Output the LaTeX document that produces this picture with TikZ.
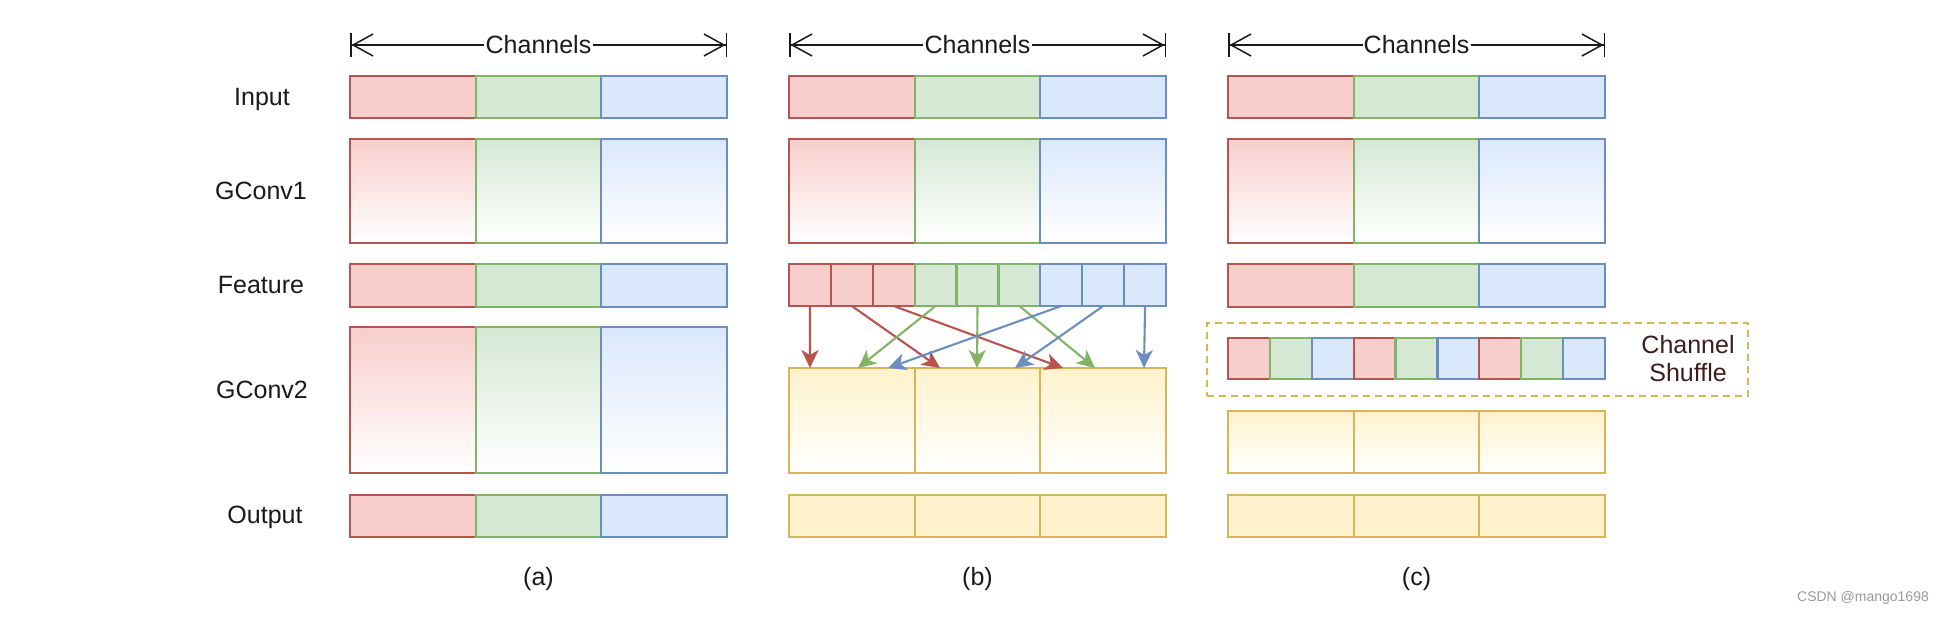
\documentclass[tikz,border=0pt]{standalone}
\usepackage{fontspec}
\setmainfont{Liberation Sans}
\usetikzlibrary{arrows.meta}
\definecolor{rfill}{HTML}{F8CECC}\definecolor{rline}{HTML}{B85450}
\definecolor{gfill}{HTML}{D5E8D4}\definecolor{gline}{HTML}{82B366}
\definecolor{bfill}{HTML}{DAE8FC}\definecolor{bline}{HTML}{6C8EBF}
\definecolor{yfill}{HTML}{FFF2CC}\definecolor{yline}{HTML}{D6B656}
\definecolor{txt}{HTML}{1A1A1A}
\definecolor{shuftxt}{HTML}{3D1C1C}
\definecolor{wmark}{HTML}{9A9A9A}
\begin{document}
\begin{tikzpicture}[x=1pt,y=-1pt,
  cell/.style={inner sep=0pt,outer sep=0pt,anchor=north west,line width=2.2pt},
  flat/.style={draw=#1line,fill=#1fill},
  grad/.style={draw=#1line,top color=#1fill,bottom color=white},
  lbl/.style={font=\fontsize{25}{29}\selectfont,text=txt,anchor=base,inner sep=0pt},
  dimline/.style={line width=1.5pt,draw=txt},
  dimtip/.style={-{Straight Barb[length=20pt,width=22pt]Bar[width=24pt]}},
  flow/.style={line width=2.1pt,-{Stealth[length=18pt,width=17pt,inset=5pt]}},
  shufbox/.style={cell,draw=yline,dash pattern=on 7pt off 5pt,line width=2pt},
]
\fill[white] (0,0) rectangle (1946,616);
\useasboundingbox (0,0) rectangle (1946,616);
\def\cellW{125.667}
\def\cellw{41.889}

% row labels
\node[lbl] (l-in) at (262,105.5) {Input};
\node[lbl] (l-g1) at (261,199.5) {GConv1};
\node[lbl] (l-ft) at (261,293.5) {Feature};
\node[lbl] (l-g2) at (262,398.5) {GConv2};
\node[lbl] (l-out) at (265,523.5) {Output};

% Channels dimension arrows
\foreach \p/\x in {a/350,b/789,c/1228}{
  \coordinate (\p-L) at (\x,45);
  \coordinate (\p-R) at ({\x+377},45);
  \node[lbl,inner xsep=1pt] (\p-ch) at ({\x+188.5},53.5) {Channels};
  \draw[dimline,dimtip] (\p-ch.west |- \p-L) -- (\p-L);
  \draw[dimline,dimtip] (\p-ch.east |- \p-R) -- (\p-R);
}

% common rows: Input, GConv1 in all panels
\foreach \p/\x in {a/350,b/789,c/1228}{
  \foreach \col [count=\i from 0] in {r,g,b}{
    \node[cell,flat=\col,minimum width=\cellW pt,minimum height=42pt] (\p-in-\i) at ({\x+\cellW*\i},76) {};
    \node[cell,grad=\col,minimum width=\cellW pt,minimum height=104pt] (\p-g1-\i) at ({\x+\cellW*\i},139) {};
  }
}

% panel (a)
\foreach \col [count=\i from 0] in {r,g,b}{
  \node[cell,flat=\col,minimum width=\cellW pt,minimum height=43pt] (a-ft-\i) at ({350+\cellW*\i},264) {};
  \node[cell,grad=\col,minimum width=\cellW pt,minimum height=146pt] (a-g2-\i) at ({350+\cellW*\i},327) {};
  \node[cell,flat=\col,minimum width=\cellW pt,minimum height=42pt] (a-out-\i) at ({350+\cellW*\i},495) {};
}

% panel (b)
\foreach \col [count=\i] in {r,r,r,g,g,g,b,b,b}{
  \node[cell,flat=\col,minimum width=\cellw pt,minimum height=42pt] (b-ft-\i) at ({789+\cellw*(\i-1)},264) {};
}
\foreach \i in {0,1,2}{
  \node[cell,grad=y,minimum width=\cellW pt,minimum height=105pt] (b-g2-\i) at ({789+\cellW*\i},368) {};
  \node[cell,flat=y,minimum width=\cellW pt,minimum height=42pt] (b-out-\i) at ({789+\cellW*\i},495) {};
}
\foreach \j/\x in {1/810,2/858,3/888,4/940,5/977,6/1015,7/1063,8/1095,9/1144}{
  \coordinate (t\j) at (\x,368);
}
\foreach \s/\t/\col in {1/1/r,2/4/r,3/7/r,4/2/g,5/5/g,6/8/g,7/3/b,8/6/b,9/9/b}{
  \draw[flow,color=\col line] (b-ft-\s.south) -- (t\t);
}

% panel (c)
\foreach \col [count=\i from 0] in {r,g,b}{
  \node[cell,flat=\col,minimum width=\cellW pt,minimum height=43pt] (c-ft-\i) at ({1228+\cellW*\i},264) {};
}
\node[shufbox,minimum width=541pt,minimum height=73pt] (shuf) at (1207,323) {};
\foreach \col [count=\i] in {r,g,b,r,g,b,r,g,b}{
  \node[cell,flat=\col,minimum width=\cellw pt,minimum height=41pt] (c-sh-\i) at ({1228+\cellw*(\i-1)},338) {};
}
\node[font=\fontsize{25}{28.5}\selectfont,text=shuftxt,align=center,inner sep=0pt] (shuflbl) at (1688,358.6) {Channel\\Shuffle};
\foreach \i in {0,1,2}{
  \node[cell,grad=y,minimum width=\cellW pt,minimum height=62pt] (c-g2-\i) at ({1228+\cellW*\i},411) {};
  \node[cell,flat=y,minimum width=\cellW pt,minimum height=42pt] (c-out-\i) at ({1228+\cellW*\i},495) {};
}

% captions
\node[lbl] (cap-a) at (538.5,585) {(a)};
\node[lbl] (cap-b) at (977.5,585) {(b)};
\node[lbl] (cap-c) at (1416.5,585) {(c)};

% watermark
\node[font=\fontsize{14}{16}\selectfont,text=wmark,anchor=base,inner sep=0pt] (wm) at (1863,601.5) {CSDN @mango1698};
\end{tikzpicture}
\end{document}
